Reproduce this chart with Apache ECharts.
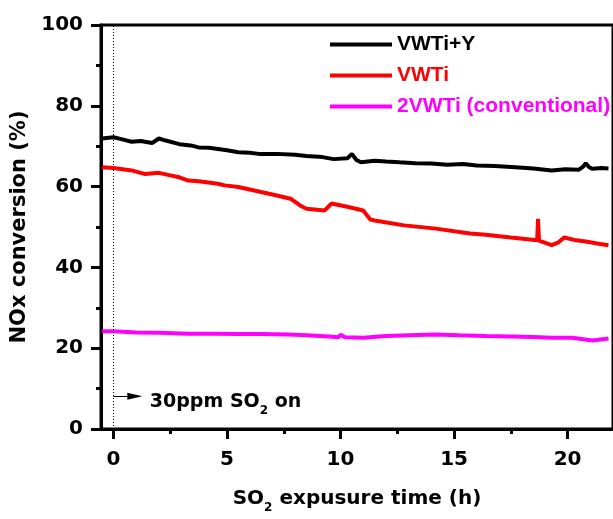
<!DOCTYPE html>
<html>
<head>
<meta charset="utf-8">
<script src="https://cdn.jsdelivr.net/npm/echarts@6/dist/echarts.min.js"></script>
<style>html,body{margin:0;padding:0;background:#fff;}#chart{width:613px;height:519px;}</style>
</head>
<body>
<div id="chart"></div>
<script>
// ---- data ----
const seriesNames = ['VWTi+Y', 'VWTi', '2VWTi (conventional)'];
const xTickLabels = [0, 5, 10, 15, 20];
const xMinorTicks = [2.5, 7.5, 12.5, 17.5];

const blackT = [-0.5, 0, 0.3, 0.8, 1.2, 1.7, 2.0, 2.3, 2.9, 3.4, 3.75, 4.2, 4.6, 5.0, 5.5, 6.0, 6.4, 7.2, 8.0, 8.5, 9.2, 9.7, 10.3, 10.5, 10.7, 10.9, 11.5, 12.0, 12.6, 13.3, 14.0, 14.7, 15.4, 16.0, 16.8, 17.7, 18.5, 19.3, 19.9, 20.5, 20.7, 20.8, 20.95, 21.1, 21.5, 21.8];
const blackV = [71.9, 72.2, 71.8, 71.1, 71.3, 70.8, 71.9, 71.4, 70.5, 70.2, 69.7, 69.6, 69.3, 69.0, 68.5, 68.4, 68.1, 68.1, 67.9, 67.6, 67.3, 66.8, 67.0, 68.1, 66.6, 66.0, 66.4, 66.2, 66.0, 65.8, 65.7, 65.4, 65.6, 65.2, 65.1, 64.8, 64.5, 64.0, 64.3, 64.2, 65.0, 65.8, 64.8, 64.4, 64.6, 64.5];

const redT = [-0.5, 0, 0.8, 1.4, 2.0, 2.4, 2.9, 3.3, 3.75, 4.6, 4.9, 5.5, 6.4, 7.2, 7.8, 8.0, 8.2, 8.5, 9.3, 9.5, 9.6, 10.3, 11.0, 11.15, 11.3, 11.5, 12.8, 14.2, 15.7, 16.4, 17.5, 18.66, 18.7, 18.74, 19.3, 19.6, 19.85, 20.3, 20.8, 21.3, 21.8];
const redV = [64.8, 64.6, 64.0, 63.1, 63.4, 62.9, 62.3, 61.5, 61.3, 60.7, 60.3, 59.9, 58.8, 57.8, 57.0, 56.2, 55.4, 54.5, 54.1, 55.2, 55.8, 55.0, 54.1, 53.0, 51.9, 51.6, 50.4, 49.6, 48.4, 48.1, 47.4, 46.7, 52.0, 46.6, 45.5, 46.2, 47.4, 46.8, 46.4, 45.9, 45.5];

const magT = [-0.5, 0, 1, 2, 3.3, 4.5, 5.5, 6.5, 7.7, 8.5, 9.5, 9.9, 10.0, 10.2, 11, 12, 13, 14.2, 15.2, 16.4, 17.5, 18.5, 19.3, 20.2, 21.1, 21.8];
const magV = [24.2, 24.2, 23.9, 23.8, 23.6, 23.6, 23.5, 23.5, 23.4, 23.2, 22.9, 22.7, 23.3, 22.7, 22.6, 23.0, 23.2, 23.4, 23.2, 23.0, 22.9, 22.8, 22.6, 22.6, 21.9, 22.4];

const soOnTime = 0;          // SO2 switched on (h)
const arrowLevel = 8.1;      // annotation arrow height (%)
const arrowEnd = 0.94;       // annotation arrow end (h)

// ---- chart ----
const colors = ['#000000', '#ff0000', '#ff00ff'];
const pairs = (t, v) => t.map((x, i) => [x, v[i]]);
const FONT = 'DejaVu Sans';
const subRich = {
  sub: { fontSize: 12, fontWeight: 'bold', fontFamily: FONT, lineHeight: 10, verticalAlign: 'bottom', color: '#000' }
};

const chart = echarts.init(document.getElementById('chart'), null, { renderer: 'canvas' });
chart.setOption({
  animation: false,
  backgroundColor: '#fff',
  grid: { left: 101, top: 25, width: 517.5, height: 407, show: true, borderColor: '#000', borderWidth: 3, containLabel: false },
  legend: {
    orient: 'vertical', left: 330, top: 34, padding: 0, itemGap: 10,
    itemWidth: 62, itemHeight: 4, icon: 'rect',
    textStyle: { fontFamily: 'Liberation Sans', fontWeight: 'bold', fontSize: 21 },
    data: seriesNames.map((n, i) => ({ name: n, textStyle: { color: colors[i] } }))
  },
  xAxis: [{
    type: 'value', min: -0.55, max: 22,
    axisLine: { show: true, onZero: false, lineStyle: { color: '#000', width: 3 } },
    axisTick: { show: true, length: 10, lineStyle: { width: 3, color: '#000' }, customValues: xTickLabels },
    axisLabel: { margin: 21, color: '#000', fontFamily: FONT, fontWeight: 'bold', fontSize: 20, customValues: xTickLabels },
    splitLine: { show: false },
    name: 'SO{sub|2} expusure time (h)', nameLocation: 'middle', nameGap: 55,
    nameTextStyle: { color: '#000', fontFamily: FONT, fontWeight: 'bold', fontSize: 20, lineHeight: 30, rich: subRich }
  }, {
    type: 'value', min: -0.55, max: 22, position: 'bottom',
    axisLine: { show: false, onZero: false },
    axisTick: { show: true, length: 5, lineStyle: { width: 3, color: '#000' }, customValues: xMinorTicks },
    axisLabel: { show: false },
    splitLine: { show: false }
  }],
  yAxis: {
    type: 'value', min: 0, max: 100, interval: 20,
    axisLine: { show: true, onZero: false, lineStyle: { color: '#000', width: 3 } },
    axisTick: { show: true, length: 10, lineStyle: { width: 3, color: '#000' } },
    minorTick: { show: true, splitNumber: 2, length: 5, lineStyle: { width: 3, color: '#000' } },
    axisLabel: { margin: 18, color: '#000', fontFamily: FONT, fontWeight: 'bold', fontSize: 20 },
    splitLine: { show: false },
    name: 'NOx conversion (%)', nameLocation: 'middle', nameGap: 60,
    nameTextStyle: { color: '#000', fontFamily: FONT, fontWeight: 'bold', fontSize: 21 }
  },
  series: [
    {
      name: seriesNames[0], type: 'line', xAxisIndex: 0, data: pairs(blackT, blackV),
      showSymbol: false, color: colors[0], lineStyle: { width: 4, color: colors[0] }, z: 3,
      markLine: {
        silent: true, animation: false,
        symbol: ['none', 'triangle'], symbolSize: [7, 15],
        lineStyle: { type: 'solid', width: 1, color: '#000' },
        label: {
          show: true, position: 'end', distance: 15, color: '#000',
          fontFamily: FONT, fontWeight: 'bold', fontSize: 19, lineHeight: 30, padding: [12, 0, 0, 0],
          formatter: '30ppm SO{sub|2} on', rich: subRich
        },
        data: [[
          { coord: [soOnTime, arrowLevel] },
          { coord: [arrowEnd, arrowLevel] }
        ]]
      }
    },
    {
      name: seriesNames[1], type: 'line', xAxisIndex: 0, data: pairs(redT, redV),
      showSymbol: false, color: colors[1], lineStyle: { width: 4, color: colors[1] }, z: 2
    },
    {
      name: seriesNames[2], type: 'line', xAxisIndex: 0, data: pairs(magT, magV),
      showSymbol: false, color: colors[2], lineStyle: { width: 4, color: colors[2] }, z: 2,
      markLine: {
        silent: true, animation: false, symbol: ['none', 'none'],
        lineStyle: { type: [1, 2], width: 1, color: '#000' },
        emphasis: { disabled: true },
        label: { show: false },
        data: [{ xAxis: soOnTime }]
      }
    }
  ]
});
</script>
</body>
</html>
